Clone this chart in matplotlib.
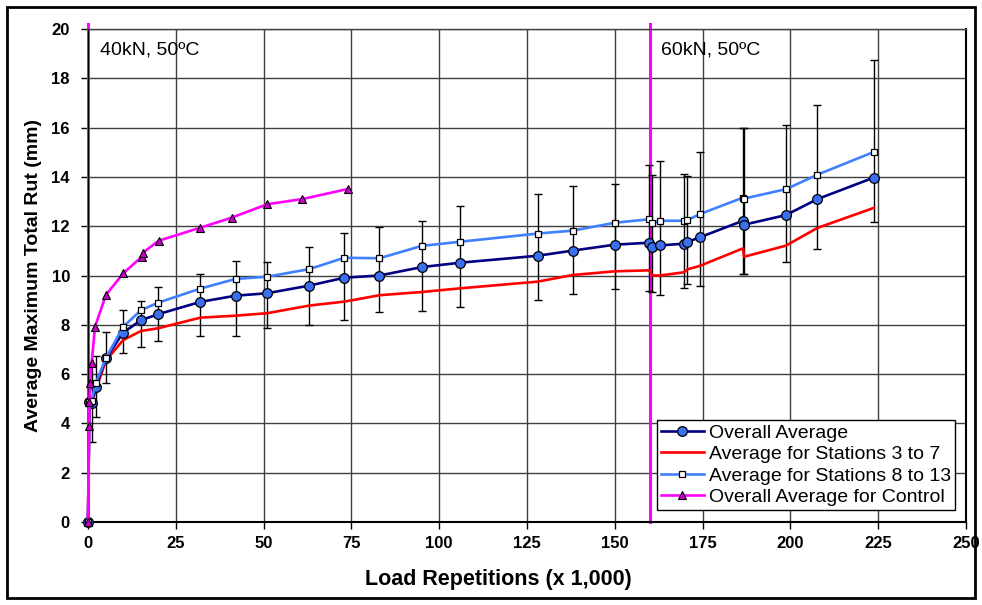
import matplotlib
matplotlib.use("Agg")
import matplotlib.pyplot as plt
from matplotlib.patches import Rectangle

plt.rcParams['font.family'] = ['Liberation Sans', 'DejaVu Sans']

# Load repetitions (x 1,000)
reps = [0, 0.4, 1.0, 2.2, 5.1, 10.0, 15.1, 20.0, 32.0, 42.0, 51.0, 63.0, 73.0, 83.0,
        95.0, 106.0, 128.0, 138.0, 150.0, 159.8, 160.7, 162.8, 169.7, 170.7, 174.2,
        186.5, 186.8, 198.7, 207.7, 223.7]

overall_avg = [0, 4.87, 4.81, 5.49, 6.64, 7.68, 8.19, 8.43, 8.93, 9.18, 9.28, 9.59, 9.91, 10.0,
               10.34, 10.52, 10.80, 11.01, 11.25, 11.33, 11.14, 11.22, 11.29, 11.36, 11.55,
               12.22, 12.06, 12.45, 13.10, 13.97]

err_low = [0, 0, 1.55, 1.25, 1.0, 0.83, 1.10, 1.09, 1.37, 1.63, 1.42, 1.61, 1.73, 1.49,
           1.78, 1.79, 1.78, 1.76, 1.81, 1.95, 1.81, 2.02, 1.81, 1.72, 1.96,
           2.17, 2.01, 1.91, 2.01, 1.79]
err_high = [0, 0, 1.55, 1.25, 1.05, 0.92, 0.78, 1.12, 1.14, 1.42, 1.28, 1.58, 1.81, 1.96,
            1.88, 2.30, 2.50, 2.62, 2.46, 3.14, 2.94, 3.41, 2.83, 2.69, 3.46,
            3.76, 3.92, 3.64, 3.82, 4.77]

stations_3_7 = [0, 4.70, 4.80, 5.35, 6.55, 7.38, 7.75, 7.86, 8.29, 8.37, 8.47, 8.78, 8.94, 9.20,
                9.33, 9.48, 9.75, 10.02, 10.17, 10.21, 10.00, 10.00, 10.13, 10.25, 10.39,
                11.10, 10.76, 11.21, 11.93, 12.74]

stations_8_13 = [0, 4.85, 4.90, 5.63, 6.65, 7.92, 8.59, 8.90, 9.47, 9.86, 9.95, 10.26, 10.72, 10.70,
                 11.20, 11.37, 11.70, 11.82, 12.14, 12.28, 12.12, 12.22, 12.22, 12.25, 12.49,
                 13.16, 13.12, 13.50, 14.09, 15.01]

control_reps = [0, 0.3, 0.4, 0.6, 1.05, 2.0, 5.1, 10.05, 15.3, 15.7, 20.1, 32.0, 41.0, 51.0, 61.0, 74.0]
control_avg = [0, 3.89, 4.87, 5.65, 6.46, 7.92, 9.21, 10.09, 10.76, 10.93, 11.41, 11.94, 12.35,
               12.89, 13.10, 13.51]

load_changes = [0, 160]
load_labels = ["40kN, 50ºC", "60kN, 50ºC"]
label_x = [3.4, 163.2]

series_names = ["Overall Average", "Average for Stations 3 to 7",
                "Average for Stations 8 to 13", "Overall Average for Control"]

fig = plt.figure(figsize=(9.82, 6.05), dpi=100)
ax = fig.add_axes([88/982, (605-522)/605, 878/982, 493/605])

ax.set_xlim(0, 250)
ax.set_ylim(0, 20)
ax.set_xticks(range(0, 251, 25))
ax.set_yticks(range(0, 21, 2))
ax.grid(True, color='#404040', linewidth=1.0, zorder=0)
ax.set_axisbelow(True)

for xc in load_changes:
    ax.axvline(xc, ymin=0, ymax=1.01, color='#FF00FF', linewidth=2.2, zorder=2, clip_on=False)

ax.errorbar(reps, overall_avg, yerr=[err_low, err_high], fmt='none', ecolor='black',
            elinewidth=1.0, capsize=3, capthick=1.0, zorder=3)

ax.plot(reps, stations_3_7, color='#FF0000', linewidth=1.9, zorder=4, label=series_names[1],
        clip_on=False)
ax.plot(reps, overall_avg, color='#000080', linewidth=1.9, marker='o', markersize=7,
        markerfacecolor='#3a6ff0', markeredgecolor='black', markeredgewidth=0.9,
        zorder=5, label=series_names[0], clip_on=False)
ax.plot(reps, stations_8_13, color='#4080FF', linewidth=1.9, marker='s', markersize=4.5,
        markerfacecolor='white', markeredgecolor='black', markeredgewidth=0.9,
        zorder=6, label=series_names[2], clip_on=False)
ax.plot(control_reps, control_avg, color='#FF00FF', linewidth=1.9, marker='^', markersize=6,
        markerfacecolor='#CC00CC', markeredgecolor='black', markeredgewidth=0.8,
        zorder=7, label=series_names[3], clip_on=False)

for lx, txt in zip(label_x, load_labels):
    ax.text(lx, 19.15, txt, fontsize=14, va='center', ha='left', color='black', zorder=8)

ax.tick_params(axis='both', labelsize=12, direction='out', length=5, width=1)
ax.tick_params(axis='y', pad=8)
ax.tick_params(axis='x', pad=5)
for lab in ax.get_xticklabels() + ax.get_yticklabels():
    lab.set_fontweight('bold')
ax.set_xlabel("Load Repetitions (x 1,000)", fontsize=15.5, fontweight='bold')
ax.xaxis.set_label_coords((498 - 88) / 878, -(569 - 522) / 493)
ax.set_ylabel("Average Maximum Total Rut (mm)", fontsize=14, fontweight='bold', labelpad=7)

for s in ['bottom', 'right']:
    ax.spines[s].set_color('black')
    ax.spines[s].set_linewidth(1.5)
ax.spines['left'].set_color('black')
ax.spines['top'].set_color('#404040')
ax.spines['top'].set_linewidth(1.0)

handles, labels = ax.get_legend_handles_labels()
order = [labels.index(n) for n in series_names]
leg = ax.legend([handles[i] for i in order], [labels[i] for i in order],
                loc='lower left', bbox_to_anchor=(0.648, 0.024), fontsize=14,
                frameon=True, fancybox=False, edgecolor='black', framealpha=1,
                handlelength=2.2, handletextpad=0.3, borderpad=0.2, labelspacing=0.2,
                borderaxespad=0)
leg.get_frame().set_linewidth(1.0)
leg.set_zorder(10)

fig.patches.append(Rectangle((7/982, 7/605), 968/982, 591/605, transform=fig.transFigure,
                             fill=False, edgecolor='black', linewidth=2))

fig.savefig("out.png", dpi=100)
